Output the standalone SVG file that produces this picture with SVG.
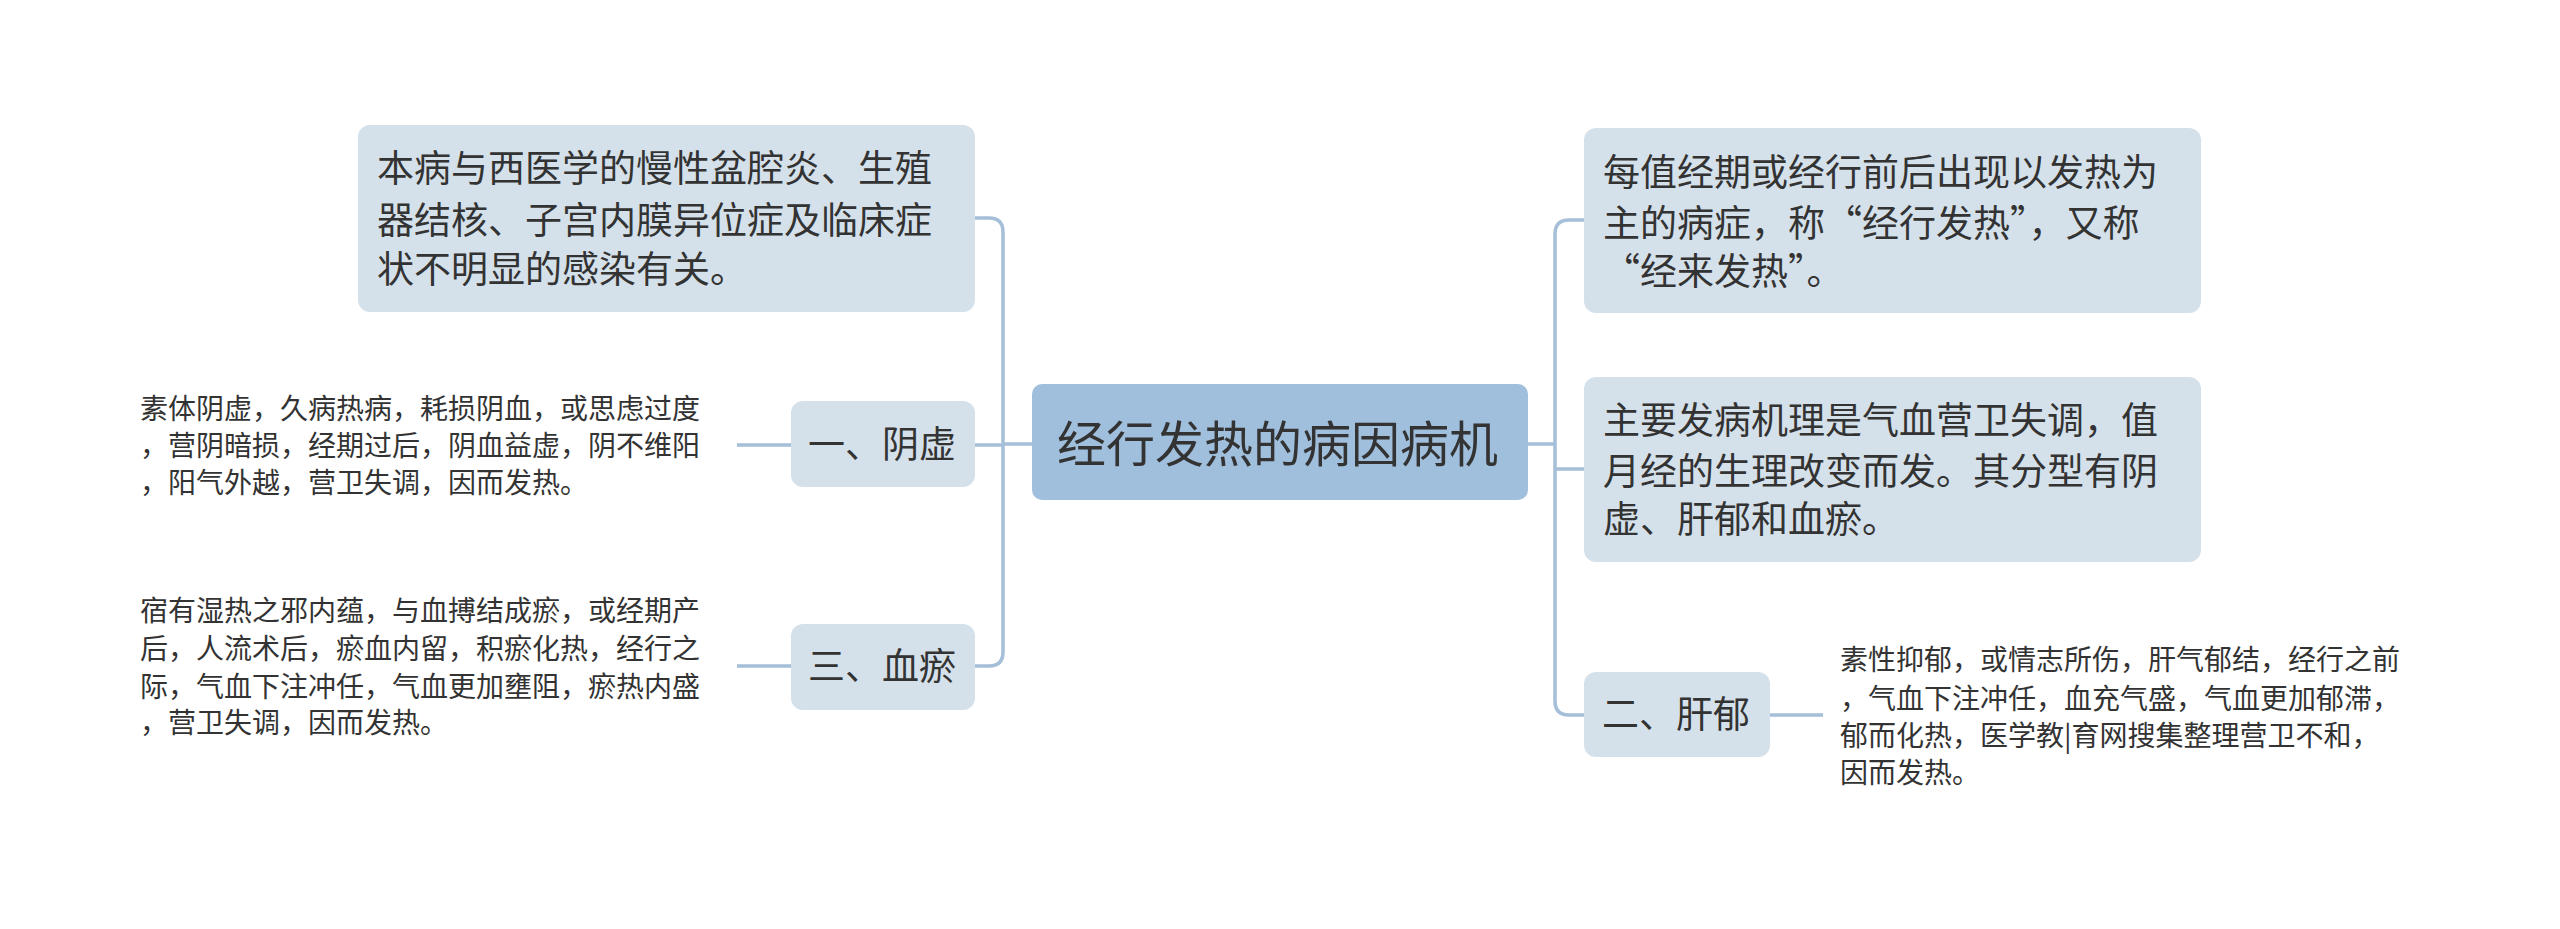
<svg xmlns="http://www.w3.org/2000/svg" width="2560" height="929" viewBox="0 0 2560 929">
<style>
text{font-family:"Noto Sans CJK SC","Noto Sans",sans-serif;fill:#333}
.b{fill:#d5e1ea}
.m{font-size:37px}
.s{font-size:28px}
.c{fill:none;stroke:#a5bfd8;stroke-width:3.5}
</style>
<rect width="2560" height="929" fill="#fff"/>
<g id="connectors">
<path class="c" d="M1528 444H1555M1584 220H1569Q1555 220 1555 234V701Q1555 715 1569 715H1584M1555 469H1584"/>
<path class="c" d="M1032 444H1003M975 218H989Q1003 218 1003 232V652Q1003 666 989 666H975M1003 445H975"/>
<path class="c" d="M791 445H737M791 666H737M1770 715H1823"/>
</g>
<g id="center"><rect x="1032" y="384" width="496" height="116" rx="10" fill="#a0bfdc"/><text x="1057" y="462" style="font-size:49px">经行发热的病因病机</text></g>
<g id="l1"><rect class="b" x="358" y="125" width="617" height="187" rx="12"/>
<text class="m" x="377" y="182">本病与西医学的慢性盆腔炎、生殖</text>
<text class="m" x="377" y="234">器结核、子宫内膜异位症及临床症</text>
<text class="m" x="377" y="283">状不明显的感染有关。</text></g>
<g id="l2"><rect class="b" x="791" y="401" width="184" height="86" rx="12"/><text class="m" x="808" y="458">一、阴虚</text></g>
<g id="l2t"><text class="s" x="140" y="419">素体阴虚，久病热病，耗损阴血，或思虑过度</text>
<text class="s" x="140" y="456">，营阴暗损，经期过后，阴血益虚，阴不维阳</text>
<text class="s" x="140" y="493">，阳气外越，营卫失调，因而发热。</text></g>
<g id="l3"><rect class="b" x="791" y="624" width="184" height="86" rx="12"/><text class="m" x="808" y="680">三、血瘀</text></g>
<g id="l3t"><text class="s" x="140" y="621">宿有湿热之邪内蕴，与血搏结成瘀，或经期产</text>
<text class="s" x="140" y="659">后，人流术后，瘀血内留，积瘀化热，经行之</text>
<text class="s" x="140" y="697">际，气血下注冲任，气血更加壅阻，瘀热内盛</text>
<text class="s" x="140" y="733">，营卫失调，因而发热。</text></g>
<g id="r1"><rect class="b" x="1584" y="128" width="617" height="185" rx="12"/>
<text class="m" x="1603" y="186">每值经期或经行前后出现以发热为</text>
<text class="m" x="1603" y="237">主的病症，称“经行发热”，又称</text>
<text class="m" x="1603" y="285">“经来发热”。</text></g>
<g id="r2"><rect class="b" x="1584" y="377" width="617" height="185" rx="12"/>
<text class="m" x="1603" y="434">主要发病机理是气血营卫失调，值</text>
<text class="m" x="1603" y="485">月经的生理改变而发。其分型有阴</text>
<text class="m" x="1603" y="533">虚、肝郁和血瘀。</text></g>
<g id="r3"><rect class="b" x="1584" y="672" width="186" height="85" rx="12"/><text class="m" x="1602" y="728">二、肝郁</text></g>
<g id="r3t"><text class="s" x="1840" y="670">素性抑郁，或情志所伤，肝气郁结，经行之前</text>
<text class="s" x="1840" y="709">，气血下注冲任，血充气盛，气血更加郁滞，</text>
<text class="s" x="1840" y="746">郁而化热，医学教|育网搜集整理营卫不和，</text>
<text class="s" x="1840" y="783">因而发热。</text></g>
</svg>
